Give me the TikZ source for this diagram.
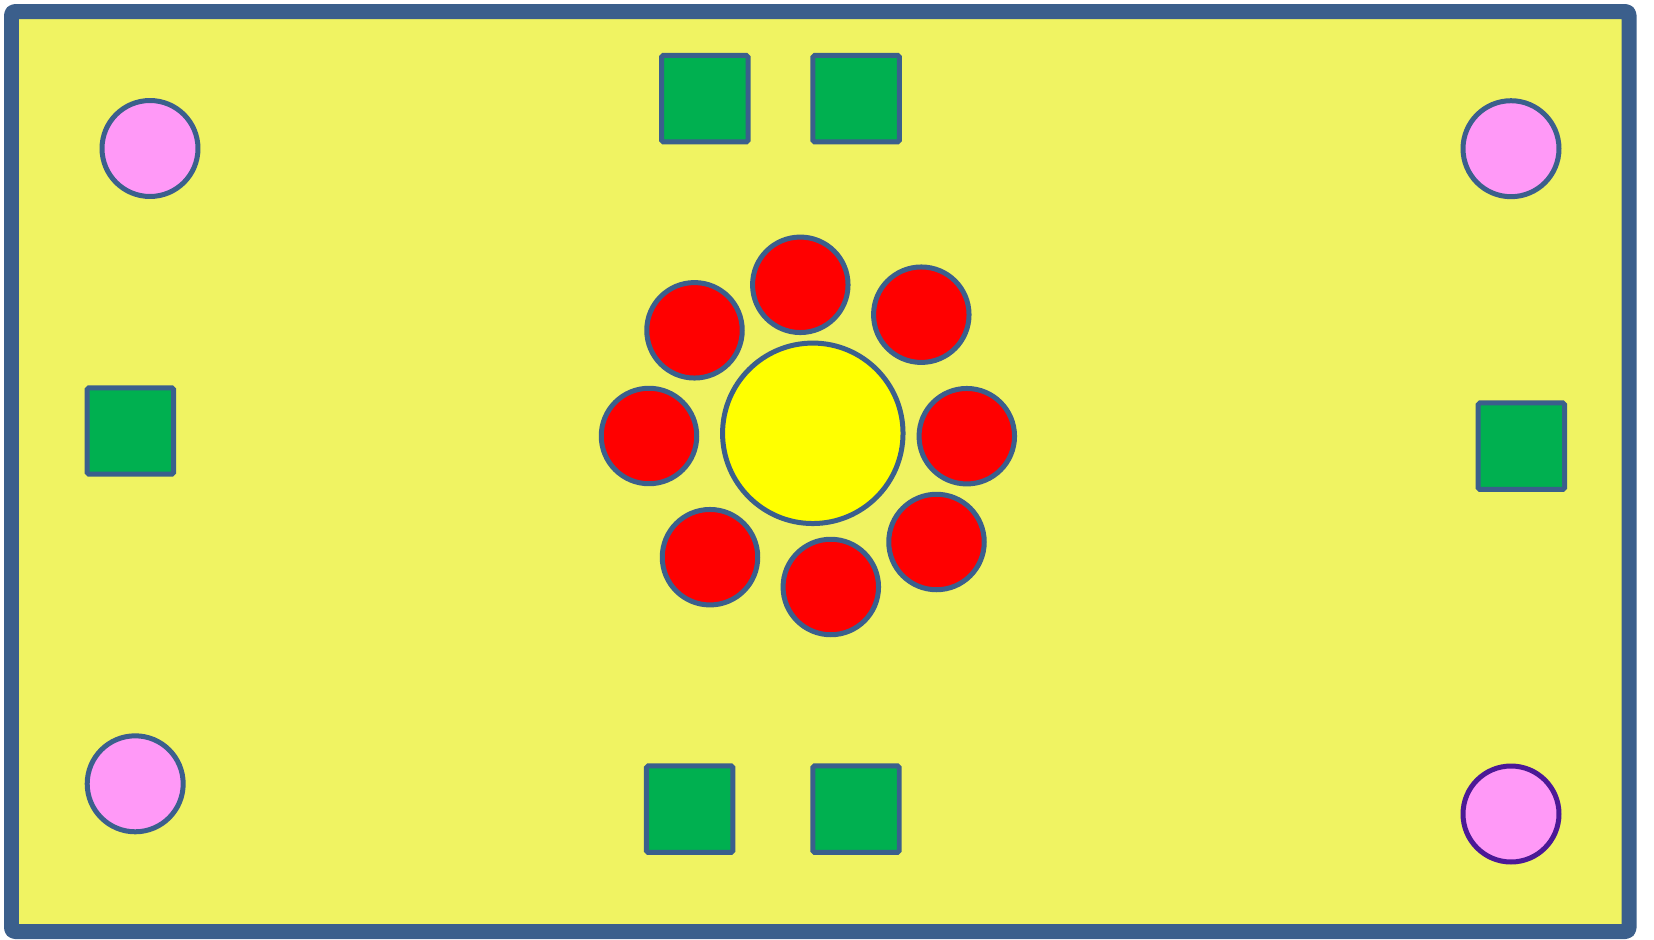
\documentclass[tikz,border=0pt]{standalone}
\usepackage{xcolor}
\usepackage{tikz}
\usetikzlibrary{shapes,positioning}
\definecolor{FrameBlue}{RGB}{59,95,140}
\definecolor{FieldYellow}{RGB}{240,243,98}
\definecolor{SunYellow}{RGB}{255,255,0}
\definecolor{DotPink}{RGB}{255,153,247}
\definecolor{DotRed}{RGB}{255,0,0}
\definecolor{BoxGreen}{RGB}{0,176,80}
\definecolor{EdgePurple}{RGB}{75,25,150}
\tikzset{
  pinkdot/.style={circle,draw=FrameBlue,fill=DotPink,line width=0.1cm,minimum size=1.92cm,inner sep=0pt},
  reddot/.style={circle,draw=FrameBlue,fill=DotRed,line width=0.1cm,minimum size=1.91cm,inner sep=0pt},
  sundot/.style={circle,draw=FrameBlue,fill=SunYellow,line width=0.1cm,minimum size=3.61cm,inner sep=0pt},
  gbox/.style={rectangle,draw=FrameBlue,fill=BoxGreen,line width=0.1cm,rounded corners=1pt,minimum size=1.73cm,inner sep=0pt},
}
\begin{document}
\begin{tikzpicture}[x=0.02cm,y=-0.02cm]
        \useasboundingbox (0,0) rectangle (1654,940);
        \draw[draw=FrameBlue,fill=FieldYellow,line width=0.3cm,line join=round,rounded corners=2pt] (11.5,11.5) rectangle (1629,931.5);
        % corner dots
        \node[pinkdot] (pinkNW) at (150,148.5) {};
        \node[pinkdot] (pinkNE) at (1511,148.7) {};
        \node[pinkdot] (pinkSW) at (135.2,783.8) {};
        \node[pinkdot,draw=EdgePurple] (pinkSE) at (1511,814) {};
        % green boxes
        \node[gbox] (boxN1) at (704.8,98.7) {};
        \node[gbox] (boxN2) at (856.2,98.7) {};
        \node[gbox] (boxW) at (130.3,431) {};
        \node[gbox] (boxE) at (1521.3,446.2) {};
        \node[gbox] (boxS1) at (689.7,809.2) {};
        \node[gbox] (boxS2) at (856,809.2) {};
        % sun and petals
        \node[sundot] (sun) at (812.8,433.3) {};
        \node[reddot] (petalN) at (800.3,284.8) {};
        \node[reddot] (petalNE) at (921.3,314.7) {};
        \node[reddot] (petalE) at (966.8,436.2) {};
        \node[reddot] (petalSE) at (936.5,542) {};
        \node[reddot] (petalS) at (830.8,587) {};
        \node[reddot] (petalSW) at (710,557.2) {};
        \node[reddot] (petalW) at (649,436) {};
        \node[reddot] (petalNW) at (694.5,330.3) {};
      \end{tikzpicture}
\end{document}
